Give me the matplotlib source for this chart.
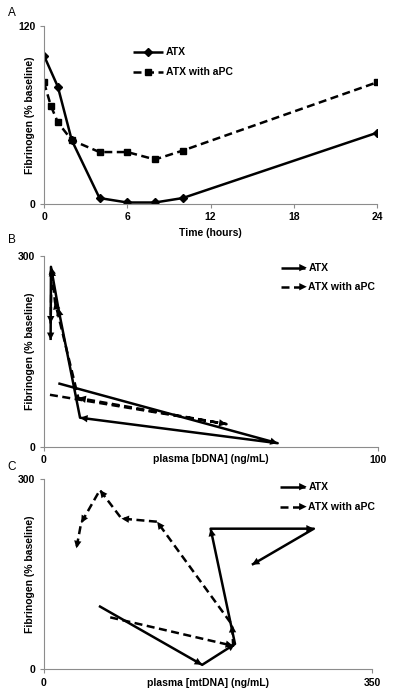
import matplotlib
matplotlib.use("Agg")
import matplotlib.pyplot as plt

plt.rcParams['font.family'] = ['Liberation Sans', 'DejaVu Sans']

# ---------------- Data ----------------
# Panel A: fibrinogen over time
time_atx = [0, 1, 2, 4, 6, 8, 10, 24]
fib_atx = [100, 79, 43, 4, 1, 1, 4, 48]
time_apc = [0, 0.5, 1, 2, 4, 6, 8, 10, 24]
fib_apc = [82, 66, 55, 43, 35, 35, 30, 36, 82]

# Panel B: fibrinogen vs plasma bDNA
bdna_atx = [4.4, 70, 10.9, 4.4, 2.2, 2.1]
fibB_atx = [100, 6, 46, 218, 283, 168]
bdna_apc = [1.9, 54.7, 10.4, 3.4, 2.4, 2.1]
fibB_apc = [82, 36, 77, 228, 280, 194]

# Panel C: fibrinogen vs plasma mtDNA
mtdna_atx = [59, 169, 204, 178, 288, 222]
fibC_atx = [100, 7, 40, 222, 222, 165]
mtdna_apc = [71, 202, 201, 121, 83, 60, 40, 35]
fibC_apc = [82, 37, 70, 233, 238, 283, 231, 191]

series_names = ["ATX", "ATX with aPC"]

# ---------------- Style ----------------
FS = 7.5
GREY = '#8c8c8c'
LW = 1.8
DASH = (3.2, 1.8)
ARROW = '-|>,head_length=0.45,head_width=0.22'

fig = plt.figure(figsize=(4, 7), dpi=100)


def style_axes(ax):
    for s in ['top', 'right']:
        ax.spines[s].set_visible(False)
    for s in ['left', 'bottom']:
        ax.spines[s].set_color(GREY)
        ax.spines[s].set_linewidth(0.8)
    ax.tick_params(axis='both', length=3, width=0.8, color=GREY,
                   labelsize=FS, pad=3)
    for lab in ax.get_xticklabels() + ax.get_yticklabels():
        lab.set_fontweight('bold')


def arrow_path(ax, xs, ys, dashed):
    kw = dict(color='black', lw=LW, solid_capstyle='butt',
              dash_capstyle='butt')
    if dashed:
        ax.plot(xs, ys, linestyle=(0, DASH), **kw)
    else:
        ax.plot(xs, ys, linestyle='-', **kw)
    for i in range(1, len(xs)):
        ax.annotate('', xy=(xs[i], ys[i]), xytext=(xs[i - 1], ys[i - 1]),
                    arrowprops=dict(arrowstyle=ARROW, color='black', lw=0,
                                    shrinkA=0, shrinkB=0, mutation_scale=12))


def legend_entry(ax, x0, x1, y, text, dashed, marker=None, arrow=False, ms=4):
    ls = (0, DASH) if dashed else '-'
    ax.plot([x0, x1], [y, y], transform=ax.transAxes, color='black', lw=LW,
            linestyle=ls, clip_on=False, solid_capstyle='butt')
    if marker is not None:
        ax.plot([(x0 + x1) / 2], [y], transform=ax.transAxes, marker=marker,
                color='black', ms=ms, clip_on=False, linestyle='none')
    if arrow:
        ax.annotate('', xy=(x1 + 0.005, y), xytext=(x0, y),
                    xycoords='axes fraction', textcoords='axes fraction',
                    arrowprops=dict(arrowstyle=ARROW, color='black', lw=0,
                                    shrinkA=0, shrinkB=0, mutation_scale=12))
    ax.text(x1 + 0.01, y, text, transform=ax.transAxes, fontsize=FS,
            fontweight='bold', va='center', ha='left')


# ---------------- Panel A ----------------
axA = fig.add_axes([0.110, 0.7086, 0.8325, 0.2543])
axA.plot(time_atx, fib_atx, color='black', lw=LW, marker='D', ms=4)
axA.plot(time_apc, fib_apc, color='black', lw=LW, marker='s', ms=5,
         linestyle=(0, DASH))
axA.set_xlim(0, 24)
axA.set_ylim(0, 120)
axA.set_xticks([0, 6, 12, 18, 24])
axA.set_yticks([0, 120])
style_axes(axA)
axA.set_xlabel('Time (hours)', fontsize=FS, fontweight='bold', va='center')
axA.xaxis.set_label_coords(0.5, -0.163)
axA.set_ylabel('Fibrinogen (% baseline)', fontsize=FS, fontweight='bold',
               va='center')
axA.yaxis.set_label_coords(-0.042, 0.5)
legend_entry(axA, 0.267, 0.357, 0.854, series_names[0], False, marker='D', ms=4)
legend_entry(axA, 0.267, 0.357, 0.742, series_names[1], True, marker='s', ms=5)

# ---------------- Panel B ----------------
axB = fig.add_axes([0.109, 0.3614, 0.836, 0.2729])
arrow_path(axB, bdna_atx, fibB_atx, dashed=False)
arrow_path(axB, bdna_apc, fibB_apc, dashed=True)
axB.set_xlim(0, 100)
axB.set_ylim(0, 300)
axB.set_xticks([0, 100])
axB.set_yticks([0, 300])
style_axes(axB)
axB.set_xlabel('plasma [bDNA] (ng/mL)', fontsize=FS, fontweight='bold',
               va='center')
axB.xaxis.set_label_coords(0.5, -0.063)
axB.set_ylabel('Fibrinogen (% baseline)', fontsize=FS, fontweight='bold',
               va='center')
axB.yaxis.set_label_coords(-0.041, 0.5)
legend_entry(axB, 0.71, 0.782, 0.939, series_names[0], False, arrow=True)
legend_entry(axB, 0.71, 0.782, 0.839, series_names[1], True, arrow=True)

# ---------------- Panel C ----------------
axC = fig.add_axes([0.109, 0.0439, 0.821, 0.2714])
arrow_path(axC, mtdna_atx, fibC_atx, dashed=False)
arrow_path(axC, mtdna_apc, fibC_apc, dashed=True)
axC.set_xlim(0, 350)
axC.set_ylim(0, 300)
axC.set_xticks([0, 350])
axC.set_yticks([0, 300])
style_axes(axC)
axC.set_xlabel('plasma [mtDNA] (ng/mL)', fontsize=FS, fontweight='bold',
               va='center')
axC.xaxis.set_label_coords(0.5, -0.074)
axC.set_ylabel('Fibrinogen (% baseline)', fontsize=FS, fontweight='bold',
               va='center')
axC.yaxis.set_label_coords(-0.042, 0.5)
legend_entry(axC, 0.72, 0.796, 0.961, series_names[0], False, arrow=True)
legend_entry(axC, 0.72, 0.796, 0.856, series_names[1], True, arrow=True)

# Panel letters
fig.text(12 / 400, 1 - 13 / 700, 'A', fontsize=8.5, ha='center', va='center')
fig.text(12 / 400, 1 - 240 / 700, 'B', fontsize=8.5, ha='center', va='center')
fig.text(12 / 400, 1 - 467 / 700, 'C', fontsize=8.5, ha='center', va='center')

fig.savefig('out.png', dpi=100)
